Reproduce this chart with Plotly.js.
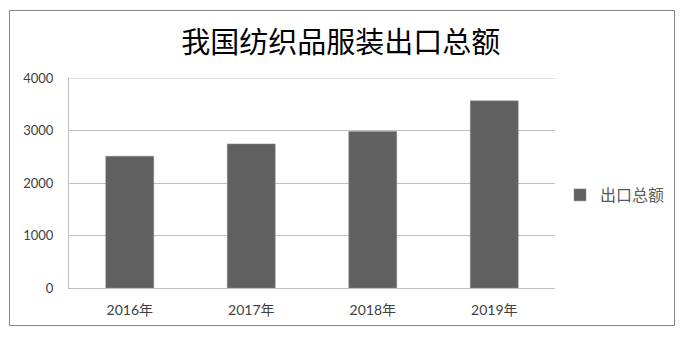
<!DOCTYPE html>
<html><head><meta charset="utf-8">
<script src="https://cdn.plot.ly/plotly-3.0.1.min.js"></script>
<style>html,body{margin:0;padding:0;background:#fff}#chart{width:690px;height:337px}</style>
</head><body><div id="chart"></div>
<script>
const categories = ['2016年', '2017年', '2018年', '2019年'];
const exportTotals = [2510, 2745, 2980, 3565];
const seriesName = '出口总额';
const yTicks = [0, 1000, 2000, 3000, 4000];

const W = 690, H = 337;
const M = {l: 69, r: 135, t: 78, b: 49};
const pw = W - M.l - M.r, ph = H - M.t - M.b;
const px = v => (v - M.l) / pw;
const py = v => (H - M.b - v) / ph;

const numFont = 'Lato, "Noto Sans CJK SC", sans-serif';
const yMax = yTicks[yTicks.length - 1];

Plotly.newPlot('chart', [{
  type: 'bar',
  x: categories,
  y: exportTotals,
  name: seriesName,
  marker: {color: '#606060', line: {color: '#8a8a8a', width: 0.5}},
  showlegend: true,
  hoverinfo: 'x+y'
}], {
  width: W, height: H,
  margin: M,
  paper_bgcolor: '#fff', plot_bgcolor: '#fff',
  bargap: 0.605,
  title: {
    text: '我国纺织品服装出口总额',
    font: {family: '"Noto Sans CJK SC", sans-serif', size: 29, color: '#000'},
    x: 0.494, xanchor: 'center', y: 1 - 43 / H, yanchor: 'middle'
  },
  xaxis: {
    type: 'category',
    showline: true, linecolor: '#bfbfbf', linewidth: 1,
    showgrid: false, ticks: '', ticklabelstandoff: 9,
    tickfont: {family: numFont, size: 14, color: '#404040'},
    fixedrange: true
  },
  yaxis: {
    range: [0, yMax], tickvals: yTicks, ticktext: yTicks.map(String),
    showline: true, linecolor: '#bfbfbf', linewidth: 1,
    showgrid: true, gridcolor: '#bfbfbf', gridwidth: 1,
    zeroline: false, ticks: '', ticklabelstandoff: 12,
    tickfont: {family: numFont, size: 13, color: '#404040'},
    fixedrange: true
  },
  legend: {
    x: px(560), xanchor: 'left', y: py(195), yanchor: 'middle',
    font: {family: '"Noto Sans CJK SC", serif', size: 16, color: '#595959'},
    bgcolor: 'rgba(0,0,0,0)', itemwidth: 30
  },
  shapes: [{
    type: 'rect', xref: 'paper', yref: 'paper',
    x0: px(9.5), x1: px(674.5), y0: py(325.5), y1: py(10.5),
    line: {color: '#868686', width: 1}, fillcolor: 'rgba(0,0,0,0)', layer: 'below'
  }, {
    type: 'line', xref: 'paper', yref: 'y',
    x0: 0, x1: 1, y0: yMax, y1: yMax,
    line: {color: '#bfbfbf', width: 1}, layer: 'below'
  }]
}, {displayModeBar: false, staticPlot: true});
</script></body></html>
